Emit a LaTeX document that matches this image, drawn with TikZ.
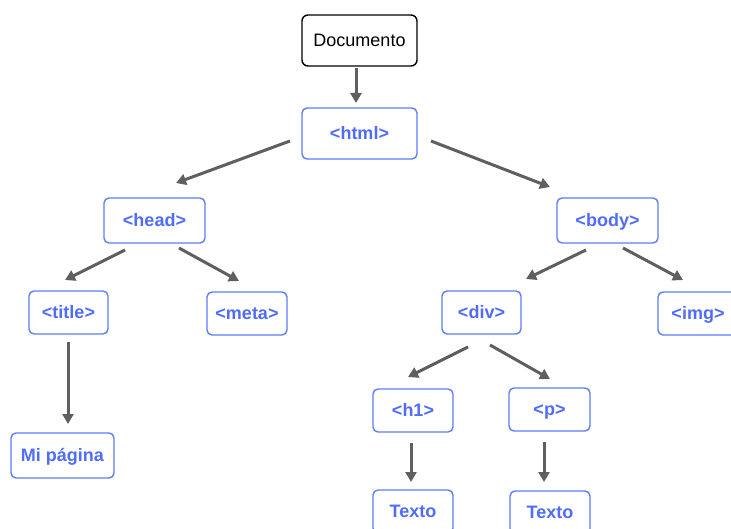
\documentclass[tikz,border=0pt]{standalone}
\usepackage{fontspec}
\setmainfont{Liberation Sans}
\usetikzlibrary{arrows.meta}
\definecolor{tagblue}{RGB}{80,108,250}
\definecolor{boxblue}{RGB}{95,125,250}
\definecolor{arrgray}{RGB}{95,95,95}
\tikzset{
  box/.style={draw=boxblue, line width=1.4pt, rounded corners=5pt, fill=white,
    text=tagblue, font=\fontsize{18}{21}\selectfont\bfseries, inner sep=0pt,
    text height=14pt, text depth=2pt},
  docbox/.style={draw=black, line width=1.4pt, rounded corners=6pt, fill=white,
    text=black, font=\fontsize{18}{21}\selectfont, inner sep=0pt,
    text height=14pt, text depth=2pt},
  arr/.style={draw=arrgray, line width=3pt, -{Triangle[length=10pt,width=11pt]}},
}
\begin{document}
\begin{tikzpicture}[x=1pt,y=-1pt]
\useasboundingbox (0,0) rectangle (731,529);
\clip (0,0) rectangle (731,529);
\fill[white] (0,0) rectangle (731,529);
% nodes
\node[docbox, minimum width=115pt, minimum height=51pt] (doc) at (359.5,40.5) {Documento};
\node[box, minimum width=115pt, minimum height=51pt] (html) at (359.5,133.5) {<html>};
\node[box, minimum width=101pt, minimum height=45pt] (head) at (154.5,220.5) {<head>};
\node[box, minimum width=101pt, minimum height=45pt] (body) at (607.5,220.5) {<body>};
\node[box, minimum width=79pt, minimum height=43pt] (title) at (68.5,312.5) {<title>};
\node[box, minimum width=80pt, minimum height=43pt] (meta) at (247,313.5) {<meta>};
\node[box, minimum width=79pt, minimum height=43pt] (div) at (481.5,312.5) {<div>};
\node[box, minimum width=80pt, minimum height=43pt] (img) at (698,313.5) {<img>};
\node[box, minimum width=80pt, minimum height=43pt] (h1) at (413,410.5) {<h1>};
\node[box, minimum width=81pt, minimum height=43pt] (p) at (549.5,409.5) {<p>};
\node[box, minimum width=103pt, minimum height=45pt] (mi) at (62.5,455.5) {Mi página};
\node[box, minimum width=80pt, minimum height=43pt] (t1) at (413,511.5) {Texto};
\node[box, minimum width=80pt, minimum height=43pt] (t2) at (550,512.5) {Texto};
% connector end points
\coordinate (a1s) at (356,68);  \coordinate (a1e) at (356,103);
\coordinate (a2s) at (290,141); \coordinate (a2e) at (176,183);
\coordinate (a3s) at (431,141); \coordinate (a3e) at (550,187);
\coordinate (a4s) at (125,250); \coordinate (a4e) at (65,280);
\coordinate (a5s) at (179,248); \coordinate (a5e) at (239,281);
\coordinate (a6s) at (586,250); \coordinate (a6e) at (526,279);
\coordinate (a7s) at (623,248); \coordinate (a7e) at (683,280);
\coordinate (a8s) at (68,342);  \coordinate (a8e) at (68,424);
\coordinate (a9s) at (468,347); \coordinate (a9e) at (408,377);
\coordinate (a10s) at (490,345); \coordinate (a10e) at (550,379);
\coordinate (a11s) at (411,443); \coordinate (a11e) at (411,482);
\coordinate (a12s) at (544,442); \coordinate (a12e) at (544,482);
% connectors
\draw[arr] (a1s) -- (a1e);
\draw[arr] (a2s) -- (a2e);
\draw[arr] (a3s) -- (a3e);
\draw[arr] (a4s) -- (a4e);
\draw[arr] (a5s) -- (a5e);
\draw[arr] (a6s) -- (a6e);
\draw[arr] (a7s) -- (a7e);
\draw[arr] (a8s) -- (a8e);
\draw[arr] (a9s) -- (a9e);
\draw[arr] (a10s) -- (a10e);
\draw[arr] (a11s) -- (a11e);
\draw[arr] (a12s) -- (a12e);
\end{tikzpicture}
\end{document}
